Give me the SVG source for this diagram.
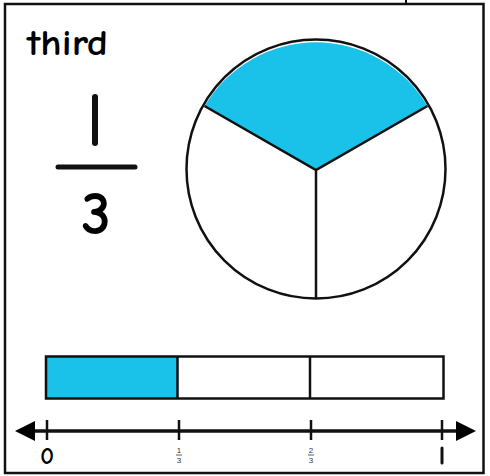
<svg xmlns="http://www.w3.org/2000/svg" width="490" height="476" viewBox="0 0 490 476">
<style>
.ln{stroke:#111;fill:none}
.blue{fill:#1ac1e8}
.t{font-family:"Comic Neue","Open Sans","Liberation Sans",sans-serif;fill:#000}
.sm{font-family:"Liberation Sans",sans-serif;font-size:8px;fill:#333;text-anchor:middle}
</style>
<defs>
<marker id="ah" markerWidth="22" markerHeight="22" refX="1" refY="10" orient="auto-start-reverse" markerUnits="userSpaceOnUse">
<path d="M0,0 L20,10 L0,20 Z" fill="#000"/>
</marker>
</defs>
<rect width="490" height="476" fill="#fff"/>
<g id="frame">
<rect x="5" y="4" width="478.5" height="469" class="ln" stroke-width="2.5"/>
<line x1="406" y1="0" x2="406" y2="4" class="ln" stroke-width="2"/>
</g>
<g id="label">
<text x="27" y="55" class="t" font-size="37" font-weight="bold" textLength="81" lengthAdjust="spacingAndGlyphs">third</text>
</g>
<g id="fraction">
<line x1="95" y1="97" x2="95" y2="143" class="ln" stroke-width="6" stroke-linecap="round"/>
<line x1="58" y1="167" x2="135" y2="167" class="ln" stroke-width="5" stroke-linecap="round"/>
<text x="96" y="234" class="t" font-size="60" text-anchor="middle" font-weight="bold">3</text>
</g>
<g id="pie">
<circle cx="316" cy="169" r="129.5" fill="#fff"/>
<path d="M316,170 L204.5,106 A129.5,129.5 0 0 1 427.5,106 Z" class="blue"/>
<circle cx="316" cy="169" r="129.5" class="ln" stroke-width="2.5"/>
<path d="M204.5,106 L316,170 L427.5,106 M316,170 L316,298.5" class="ln" stroke-width="2.5"/>
</g>
<g id="bar">
<rect x="46" y="356.5" width="131.5" height="42" class="blue"/>
<rect x="46" y="356.5" width="397.5" height="42" class="ln" stroke-width="2.5"/>
<line x1="177.5" y1="356.5" x2="177.5" y2="398.5" class="ln" stroke-width="2.5"/>
<line x1="310" y1="356.5" x2="310" y2="398.5" class="ln" stroke-width="2.5"/>
</g>
<g id="connectors">
<line x1="34" y1="431" x2="457" y2="431" class="ln" stroke-width="3.5" marker-start="url(#ah)" marker-end="url(#ah)"/>
</g>
<g id="ticks">
<path d="M47,420 V440 M179,420 V440 M311,420 V440 M442,420 V440" class="ln" stroke-width="2.5"/>
<text x="47" y="464" class="t" font-size="24" font-weight="bold" text-anchor="middle">0</text>
<line x1="442" y1="448" x2="442" y2="463" class="ln" stroke-width="3" stroke-linecap="round"/>
<text x="179" y="453" class="sm">1</text>
<line x1="176" y1="455" x2="182" y2="455" stroke="#333" stroke-width="0.8"/>
<text x="179" y="463" class="sm">3</text>
<text x="311" y="453" class="sm">2</text>
<line x1="308" y1="455" x2="314" y2="455" stroke="#333" stroke-width="0.8"/>
<text x="311" y="463" class="sm">3</text>
</g>
</svg>
